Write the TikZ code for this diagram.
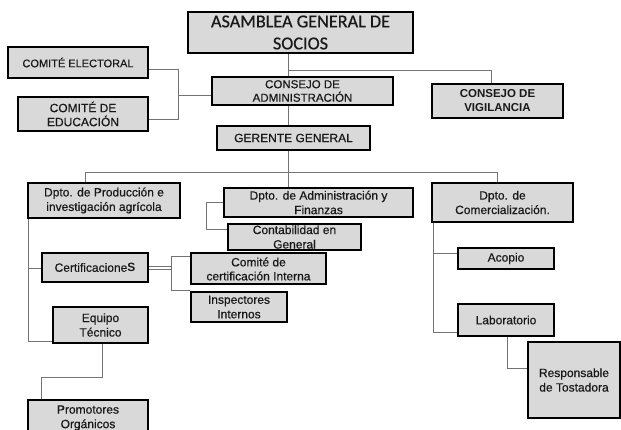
\documentclass[tikz,border=0pt]{standalone}
\usepackage{fontspec}
\setmainfont{Liberation Sans}[FakeBold=0.6]
\newfontfamily\calfont{Carlito}[FakeBold=0.6]
\newfontfamily\boldfont{Liberation Sans Bold}
\begin{document}
\begin{tikzpicture}[x=1pt,y=-1pt,
  box/.style={draw=black, line width=2pt, fill=gray!30, inner sep=0pt,
    align=center, text=black!90, font=\fontsize{12}{14.5}\selectfont},
  conn/.style={draw=black!55, line width=0.9pt}]
\useasboundingbox (0,0) rectangle (621,430);
% boxes
\node[box, minimum width=225pt, minimum height=41pt, font=\calfont\fontsize{18.2}{22}\selectfont] (asm) at (300.5,32.5) {ASAMBLEA GENERAL DE\\SOCIOS};
\node[box, minimum width=140pt, minimum height=31pt, font=\fontsize{11}{13}\selectfont] (elec) at (78,62.5) {COMITÉ ELECTORAL};
\node[box, minimum width=130pt, minimum height=34pt, font=\fontsize{12}{14}\selectfont] (edu) at (83,114) {COMITÉ DE\\EDUCACIÓN};
\node[box, minimum width=181pt, minimum height=28pt, font=\fontsize{11.5}{13.5}\selectfont] (cadm) at (302.5,91) {CONSEJO DE\\ADMINISTRACIÓN};
\node[box, minimum width=131pt, minimum height=34pt, font=\boldfont\fontsize{11.5}{14}\selectfont] (vig) at (497.5,101) {CONSEJO DE\\VIGILANCIA};
\node[box, minimum width=153pt, minimum height=24pt] (ger) at (293.5,138) {GERENTE GENERAL};
\node[box, minimum width=152pt, minimum height=35pt] (prod) at (104,200.5) {Dpto. de Producción e\\investigación agrícola};
\node[box, minimum width=189pt, minimum height=29pt] (adm) at (318.5,202.5) {Dpto. de Administración y\\Finanzas};
\node[box, minimum width=133pt, minimum height=26pt] (cont) at (294.5,237) {Contabilidad en\\General};
\node[box, minimum width=141pt, minimum height=39pt] (com) at (502.5,202.5) {Dpto. de\\Comercialización.};
\node[box, minimum width=106pt, minimum height=29pt] (cert) at (95,267.5) {Certificacione{\boldfont S}};
\node[box, minimum width=135pt, minimum height=31pt, font=\fontsize{12}{14}\selectfont] (cci) at (258.5,269) {Comité de\\certificación Interna};
\node[box, minimum width=96pt, minimum height=30pt] (insp) at (239,307) {Inspectores\\Internos};
\node[box, minimum width=95pt, minimum height=36pt] (equ) at (100.5,325) {Equipo\\Técnico};
\node[box, minimum width=120pt, minimum height=36pt] (prom) at (88,418) {Promotores\\Orgánicos};
\node[box, minimum width=96pt, minimum height=21pt] (aco) at (506,258.5) {Acopio};
\node[box, minimum width=96pt, minimum height=32pt] (lab) at (506,320) {Laboratorio};
\node[box, minimum width=92pt, minimum height=76pt] (resp) at (574,380) {Responsable\\de Tostadora};
% helper coordinates
\coordinate (xa) at (288,70);
\coordinate (xv) at (491,70);
\coordinate (ce) at (178,69);
\coordinate (cd) at (178,119);
\coordinate (cm) at (178,95);
\coordinate (hl) at (85,172);
\coordinate (hr) at (497,172);
\coordinate (ac) at (206,202);
\coordinate (ab) at (206,229);
\coordinate (pl) at (28,268);
\coordinate (pe) at (28,341);
\coordinate (kt) at (171,256);
\coordinate (kb) at (171,290);
\coordinate (ea) at (102,377);
\coordinate (eb) at (41,377);
\coordinate (cl) at (433,253);
\coordinate (cb) at (433,332);
\coordinate (la) at (507,368);
% connectors
\draw[conn] (asm.south -| xa) -- (cadm.north -| xa);
\draw[conn] (xa) -- (xv) -- (vig.north -| xv);
\draw[conn] (elec.east |- ce) -- (ce) -- (cd) -- (edu.east |- cd);
\draw[conn] (cm) -- (cadm.west |- cm);
\draw[conn] (cadm.south -| xa) -- (ger.north -| xa);
\draw[conn] (ger.south -| xa) -- (adm.north -| xa);
\draw[conn] (prod.north -| hl) -- (hl) -- (hr) -- (com.north -| hr);
\draw[conn] (adm.west |- ac) -- (ac) -- (ab) -- (cont.west |- ab);
\draw[conn] (prod.south -| pl) -- (pe) -- (equ.west |- pe);
\draw[conn] (pl) -- (cert.west |- pl);
\draw[conn] ([yshift=-1.5pt]cert.east |- pl) -- ([yshift=-1.5pt]kt |- pl);
\draw[conn] ([yshift=1.5pt]cert.east |- pl) -- ([yshift=1.5pt]kt |- pl);
\draw[conn] (cci.west |- kt) -- (kt) -- (kb) -- (insp.west |- kb);
\draw[conn] (equ.south -| ea) -- (ea) -- (eb) -- (prom.north -| eb);
\draw[conn] (com.south -| cl) -- (cb) -- (lab.west |- cb);
\draw[conn] (cl) -- (aco.west |- cl);
\draw[conn] (lab.south -| la) -- (la) -- (resp.west |- la);
\end{tikzpicture}
\end{document}
